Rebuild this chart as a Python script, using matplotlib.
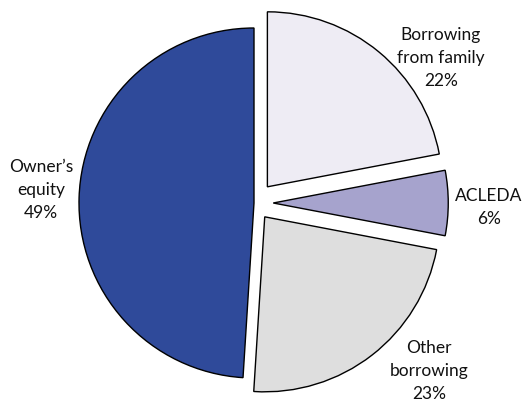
import matplotlib.pyplot as plt

# slices, clockwise from 12 o'clock
labels = ["Borrowing\nfrom family", "ACLEDA", "Other\nborrowing", "Owner\u2019s\nequity"]
shares = [22, 6, 23, 49]
colors = ["#EEECF4", "#A6A3CD", "#DEDEDE", "#2F4A9A"]
explode = [0.12, 0.11, 0.10, 0.0]

# label centres in axes fractions (layout only)
label_xy = [(0.832, 0.857), (0.922, 0.487), (0.81, 0.082), (0.077, 0.53)]

fig = plt.figure(figsize=(5.3, 4.04), dpi=100)
ax = fig.add_axes([0, 0, 1, 1])

r_px = 175.0
cx, cy = 254.0, 404 - 203.0

ax.pie(shares, colors=colors, explode=explode, startangle=90, counterclock=False,
       wedgeprops=dict(edgecolor="black", linewidth=1.0), frame=True)
ax.set_xlim(-cx / r_px, (530 - cx) / r_px)
ax.set_ylim(-cy / r_px, (404 - cy) / r_px)
ax.set_aspect("auto")
ax.axis("off")

for lab, val, (x, y) in zip(labels, shares, label_xy):
    ax.text(x, y, f"{lab}\n{val}%", transform=ax.transAxes, ha="center", va="center",
            fontsize=12.5, family="Lato", linespacing=1.55, color="#111111")

fig.savefig("out.png", dpi=100)
